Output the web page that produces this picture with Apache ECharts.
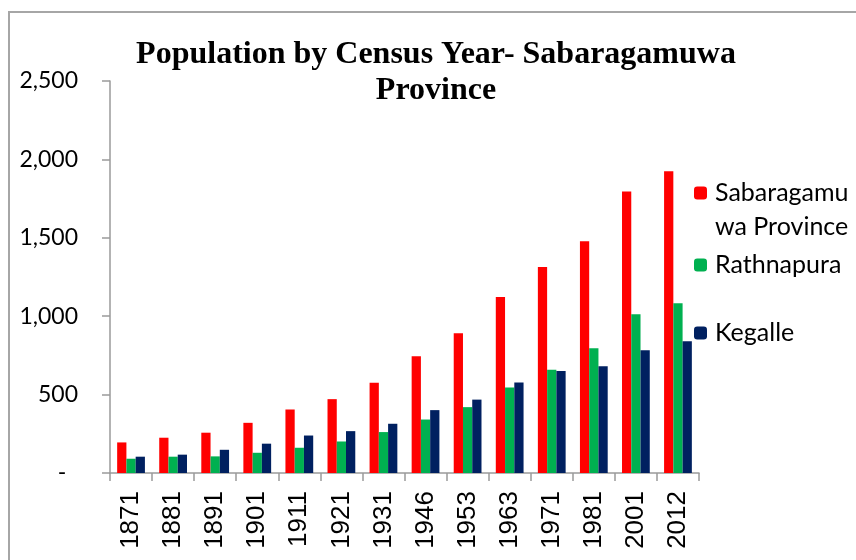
<!DOCTYPE html>
<html>
<head>
<meta charset="utf-8">
<script src="https://cdn.jsdelivr.net/npm/echarts@6/dist/echarts.min.js"></script>
<style>
  html, body { margin: 0; padding: 0; background: #fff; }
  #chart { width: 856px; height: 560px; }
</style>
</head>
<body>
<div id="chart"></div>
<script>
// census years and population (thousands)
const years = ['1871', '1881', '1891', '1901', '1911', '1921', '1931', '1946', '1953', '1963', '1971', '1981', '2001', '2012']
const sabaragamuwa = [195, 225, 257, 320, 405, 471, 575, 744, 891, 1122, 1313, 1478, 1796, 1925]
const rathnapura = [91, 104, 106, 129, 161, 201, 261, 341, 420, 545, 659, 795, 1013, 1083]
const kegalle = [104, 117, 148, 187, 239, 267, 314, 401, 468, 577, 651, 681, 783, 840]
const yTicks = [0, 500, 1000, 1500, 2000, 2500]

const axisGrey = '#9a9a9a'
const labelFont = 'Lato, "Noto Sans", sans-serif'

const chart = echarts.init(document.getElementById('chart'))

function fmtY (v) {
  if (v === 0) return '-  '
  return v.toLocaleString('en-US')
}

function legendFor (name, top) {
  return {
    data: [name],
    orient: 'vertical',
    left: 694,
    top: top,
    padding: 0,
    itemWidth: 13,
    itemHeight: 13,
    itemGap: 8,
    selectedMode: false,
    formatter: function (n) { return n === 'Sabaragamuwa Province' ? 'Sabaragamu' : n },
    textStyle: { fontFamily: labelFont, fontSize: 25, color: '#000', lineHeight: 28, padding: [0, 0, 0, 3] }
  }
}

const option = {
  animation: false,
  title: {
    text: 'Population by Census Year- Sabaragamuwa\nProvince',
    left: 431,
    top: 32,
    textAlign: 'center',
    textStyle: {
      fontFamily: '"Liberation Serif", "DejaVu Serif", serif',
      fontWeight: 'bold',
      fontSize: 32,
      lineHeight: 36,
      color: '#000'
    }
  },
  legend: [
    legendFor('Sabaragamuwa Province', 179),
    legendFor('Rathnapura', 251),
    legendFor('Kegalle', 319)
  ],
  graphic: [
    {
      type: 'rect',
      silent: true,
      shape: { x: 9, y: 12, width: 900, height: 600 },
      style: { fill: 'none', stroke: '#a6a6a6', lineWidth: 2 }
    },
    {
      type: 'text',
      left: 715,
      top: 214,
      silent: true,
      style: { text: 'wa Province', font: '25px ' + labelFont, fill: '#000' }
    }
  ],
  grid: { left: 110, right: 157, top: 81, bottom: 87, containLabel: false },
  xAxis: {
    type: 'category',
    data: years,
    axisLine: { show: true, lineStyle: { color: axisGrey, width: 1.5 } },
    axisTick: { show: true, length: 8, interval: 0, lineStyle: { color: axisGrey, width: 1.5 } },
    axisLabel: {
      interval: 0,
      rotate: 90,
      margin: 18,
      fontFamily: '"Liberation Sans", Arial, sans-serif',
      fontSize: 26,
      color: '#000'
    },
    splitLine: { show: false }
  },
  yAxis: {
    type: 'value',
    min: yTicks[0],
    max: yTicks[yTicks.length - 1],
    interval: 500,
    axisLine: { show: true, lineStyle: { color: axisGrey, width: 1.5 } },
    axisTick: { show: true, length: 8, lineStyle: { color: axisGrey, width: 1.5 } },
    axisLabel: {
      margin: 32,
      fontFamily: labelFont,
      fontSize: 23,
      color: '#000',
      formatter: fmtY
    },
    splitLine: { show: false }
  },
  series: [
    {
      name: 'Sabaragamuwa Province',
      type: 'bar',
      data: sabaragamuwa,
      barGap: '0%',
      barCategoryGap: '34%',
      itemStyle: { color: '#ff0000' }
    },
    {
      name: 'Rathnapura',
      type: 'bar',
      data: rathnapura,
      barGap: '0%',
      barCategoryGap: '34%',
      itemStyle: { color: '#00b050' }
    },
    {
      name: 'Kegalle',
      type: 'bar',
      data: kegalle,
      barGap: '0%',
      barCategoryGap: '34%',
      itemStyle: { color: '#002060' }
    }
  ]
}

chart.setOption(option)
</script>
</body>
</html>
